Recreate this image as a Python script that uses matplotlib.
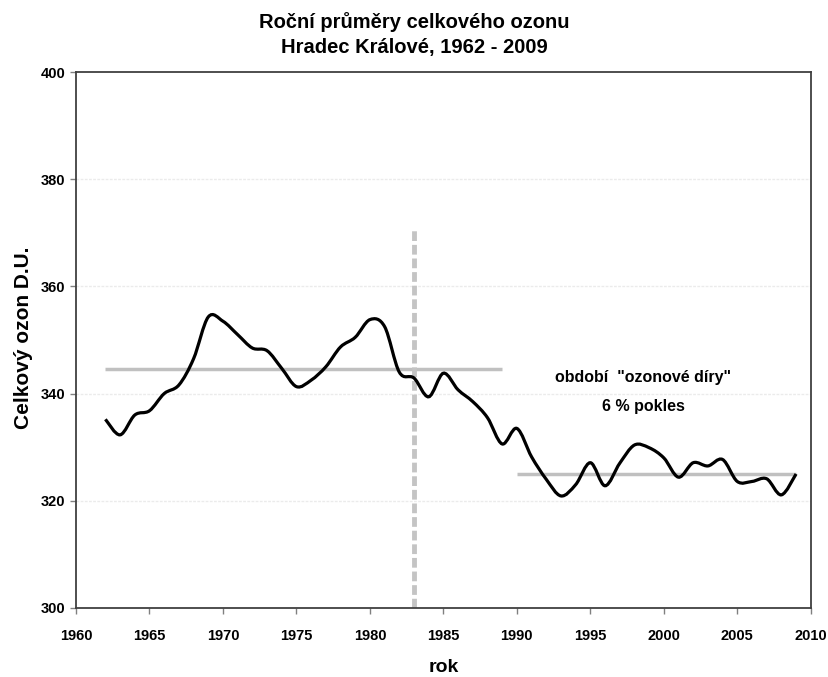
import matplotlib
matplotlib.use("Agg")
import matplotlib.pyplot as plt
import numpy as np
from matplotlib.path import Path
from matplotlib.patches import PathPatch
from matplotlib import font_manager

names = {f.name for f in font_manager.fontManager.ttflist}
fam = 'Liberation Sans Narrow' if 'Liberation Sans Narrow' in names else 'Liberation Sans'
plt.rcParams['font.family'] = [fam, 'DejaVu Sans']
plt.rcParams['font.weight'] = 'bold'

years = list(range(1962, 2010))
ozone = [335.2, 332.3, 336.0, 336.8, 340.0, 341.6, 346.5, 354.3, 353.5, 351.0,
         348.5, 348.0, 344.7, 341.3, 342.5, 345.0, 348.7, 350.5, 353.8, 352.5,
         344.0, 342.9, 339.4, 343.8, 340.7, 338.5, 335.5, 330.6, 333.5, 328.2,
         324.0, 320.9, 323.0, 327.1, 322.8, 327.0, 330.4, 329.9, 328.0, 324.4,
         327.1, 326.5, 327.7, 323.6, 323.6, 324.1, 321.1, 325.0]

mean1_years = [1962, 1989]
mean1 = 344.6
mean2_years = [1990, 2009]
mean2 = 325.0
split_year = 1983
split_top = 370.7

fig = plt.figure(figsize=(8.29, 6.77), dpi=100)
ax = fig.add_axes([0.0917, 0.102, 0.8863, 0.7916])
ax.set_xlim(1960, 2010)
ax.set_ylim(300, 400)

# smoothed line (Catmull-Rom style Bezier, like spreadsheet "smoothed line")
x = np.array(years, float)
y = np.array(ozone, float)
verts = [(x[0], y[0])]
codes = [Path.MOVETO]
n = len(x)
for i in range(n - 1):
    p0 = (x[i - 1], y[i - 1]) if i > 0 else (x[i], y[i])
    p1 = (x[i], y[i])
    p2 = (x[i + 1], y[i + 1])
    p3 = (x[i + 2], y[i + 2]) if i + 2 < n else (x[i + 1], y[i + 1])
    c1 = (p1[0] + (p2[0] - p0[0]) / 6, p1[1] + (p2[1] - p0[1]) / 6)
    c2 = (p2[0] - (p3[0] - p1[0]) / 6, p2[1] - (p3[1] - p1[1]) / 6)
    verts += [c1, c2, p2]
    codes += [Path.CURVE4] * 3

for gy in [320, 340, 360, 380]:
    ax.axhline(gy, color='#ebebeb', lw=1.0, ls=(0, (2, 1)), zorder=0)

ax.plot(mean1_years, [mean1, mean1], color='#c0c0c0', lw=2.5, zorder=2, solid_capstyle='butt')
ax.plot(mean2_years, [mean2, mean2], color='#c0c0c0', lw=2.5, zorder=2, solid_capstyle='butt')
ax.plot([split_year, split_year], [300, split_top], color='#c4c4c4', lw=3.5,
        ls=(0, (2, 0.8)), zorder=2)

ax.add_patch(PathPatch(Path(verts, codes), facecolor='none', edgecolor='black', lw=2.3, zorder=3))

ax.text(1998.6, 343.0, 'období  "ozonové díry"', ha='center', va='center', fontsize=11.5, fontweight='bold')
ax.text(1998.6, 337.6, '6 % pokles', ha='center', va='center', fontsize=11.5, fontweight='bold')

ax.set_xticks(range(1960, 2011, 5))
ax.set_yticks(range(300, 401, 20))
ax.tick_params(axis='both', labelsize=10.5, direction='out', length=4, width=1, color='#808080')
for lab in ax.get_xticklabels() + ax.get_yticklabels():
    lab.set_fontweight('bold')
ax.tick_params(axis='x', pad=11)
for s in ax.spines.values():
    s.set_color('#404040')
    s.set_linewidth(1.3)

ax.set_xlabel('rok', fontsize=14, fontweight='bold', va='center')
ax.xaxis.set_label_coords(0.5, -0.112)
ax.set_ylabel('Celkový ozon D.U.', fontsize=15, fontweight='bold', va='center')
ax.yaxis.set_label_coords(-0.072, 0.504)
fig.text(0.5, 0.967, 'Roční průměry celkového ozonu', ha='center', va='center', fontsize=14.5, fontweight='bold')
fig.text(0.5, 0.930, 'Hradec Králové, 1962 - 2009', ha='center', va='center', fontsize=14.5, fontweight='bold')

fig.savefig('out.png', dpi=100)
